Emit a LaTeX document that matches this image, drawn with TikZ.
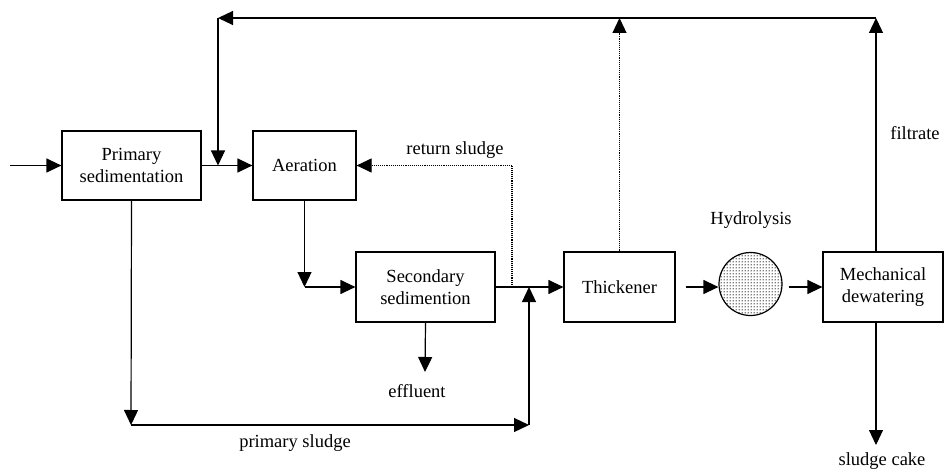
\documentclass[tikz,border=0pt]{standalone}
\usepackage{fontspec}
\setmainfont{Liberation Serif}
\usetikzlibrary{arrows.meta,patterns,calc}
\pgfdeclarepatternformonly{densedots}{\pgfpointorigin}{\pgfpoint{3pt}{3pt}}{\pgfpoint{3pt}{3pt}}{%
  \pgfpathcircle{\pgfpoint{1.5pt}{1.5pt}}{0.8pt}\pgfusepath{fill}}
\begin{document}
\begin{tikzpicture}[x=1pt,y=-1pt,
  font=\fontsize{18.5}{22}\selectfont,
  box/.style={draw,line width=1.2pt,align=center,inner sep=0pt,minimum height=69pt},
  ln/.style={line width=1.2pt},
  arr/.style={line width=1.2pt,-{Triangle[length=15pt,width=14pt]}},
  dot/.style={line width=1.2pt,dash pattern=on 1pt off 0.9pt},
  lbl/.style={inner sep=0pt,anchor=center}]
\useasboundingbox (0,0) rectangle (944,470);
% boxes
\node[box,minimum width=139pt] (prim) at (131.5,165.5) {Primary\\sedimentation};
\node[box,minimum width=103pt] (aer) at (304.5,165.5) {Aeration};
\node[box,minimum width=139pt,minimum height=70pt] (sec) at (425.5,287) {Secondary\\sedimention};
\node[box,minimum width=111pt,minimum height=70pt] (thick) at (619.5,287) {Thickener};
\node[draw,circle,line width=1.2pt,minimum size=63pt,inner sep=0pt,pattern=densedots] (hyd) at (750.5,284) {};
\node[box,minimum width=120pt,minimum height=70pt] (mech) at (883,287) {Mechanical\\dewatering};
% labels
\node[lbl] (lhyd) at (751,220) {Hydrolysis};
\node[lbl] (lret) at (455,150) {return sludge};
\node[lbl] (leff) at (417,391) {effluent};
\node[lbl] (lprim) at (295,443) {primary sludge};
\node[lbl] (lfil) at (915,133) {filtrate};
\node[lbl] (lcake) at (882,461) {sludge cake};
% coordinates
\coordinate (in) at (10,165.5);
\coordinate (topR) at (876,18);
\coordinate (topL) at (218,18);
\coordinate (joinA) at (218,165.5);
\coordinate (psL) at (131,425);
\coordinate (psR) at (529,425);
\coordinate (psT) at (529,287);
\coordinate (rs) at (512,287);
\coordinate (effEnd) at (425,372);
\coordinate (cakeEnd) at (876,445);
% main flow
\draw[arr] (in) -- (prim.west);
\draw[arr] (prim.east) -- (aer.west);
\draw[arr] (aer.south) -- (aer.south |- sec.west);
\draw[arr] (aer.south |- sec.west) -- (sec.west);
\draw[arr] (sec.east) -- (thick.west);
\draw[arr,shorten <=10pt] (thick.east) -- (hyd.west |- thick.east);
\draw[arr,shorten <=6pt] (hyd.east |- mech.west) -- (mech.west);
% filtrate recycle
\draw[arr] (topR |- mech.north) -- (topR);
\draw[arr] (topR) -- (topL);
\draw[arr] (topL) -- (joinA);
% thickener supernatant (dotted)
\draw[dot,-{Triangle[length=15pt,width=14pt]}] (thick.north) -- (thick.north |- topR);
% return sludge (dotted)
\draw[dot,-{Triangle[length=15pt,width=14pt]}] (rs) -- (rs |- aer.east) -- (aer.east);
% primary sludge
\draw[arr] (prim.south) -- (psL);
\draw[arr] (psL) -- (psR);
\draw[arr] (psR) -- (psT);
% effluent and cake
\draw[arr] (sec.south) -- (effEnd);
\draw[arr] (topR |- mech.south) -- (cakeEnd);
\end{tikzpicture}
\end{document}
